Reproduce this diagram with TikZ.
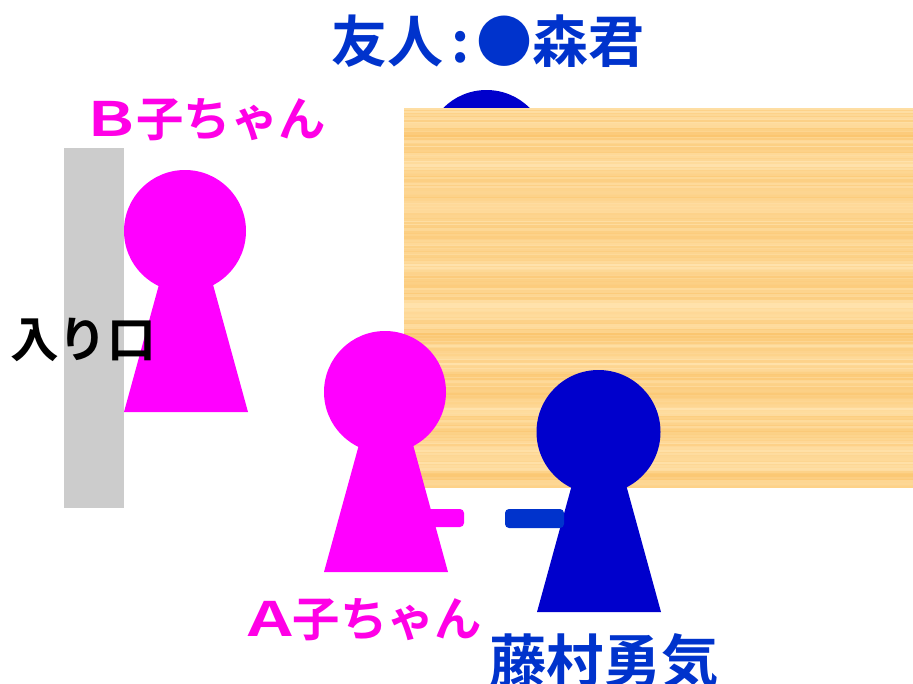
\documentclass[tikz,border=0pt]{standalone}
\usepackage{graphicx}
\usepackage{fontspec}
\newfontfamily\cjk{Noto Sans CJK JP Bold}
\definecolor{pinkfig}{HTML}{FF00FF}
\definecolor{pinktxt}{HTML}{FF00E6}
\definecolor{bluefig}{HTML}{0000CC}
\definecolor{bluetxt}{HTML}{0033CC}
\definecolor{wall}{HTML}{CCCCCC}
\definecolor{woodA}{HTML}{FFE2AC}
\definecolor{woodB}{HTML}{FBC670}
\tikzset{
  pinkbody/.style={fill=pinkfig,draw=none},
  bluebody/.style={fill=bluefig,draw=none},
  lbl/.style={inner sep=0pt,anchor=west,font=\cjk},
  pinklbl/.style={lbl,text=pinktxt,font=\cjk\fontsize{35.5}{36}\selectfont},
  bluelbl/.style={lbl,text=bluetxt,font=\cjk\fontsize{42}{44}\selectfont},
  herolbl/.style={lbl,text=bluetxt,font=\cjk\fontsize{43}{44}\selectfont},
  blacklbl/.style={lbl,text=black,font=\cjk\fontsize{36.5}{38}\selectfont},
}
\begin{document}
\begin{tikzpicture}[x=0.75pt,y=-0.75pt]
\useasboundingbox (0,0) rectangle (913,683);
% friend behind the table
\fill[bluebody] (486.5,151) circle[radius=61];
% table
\pgfmathsetseed{4711}
\foreach \yy in {108,109.5,...,487}{
  \pgfmathsetmacro{\mixv}{max(0,min(100,52+16*sin(\yy*7.3)+12*sin(\yy*17.9+40)+rnd*56-28))}
  \colorlet{woodnow}{woodA!\mixv!woodB}
  \fill[woodnow] (404,\yy) rectangle (913,\yy+1.7);
}
% wall
\fill[wall] (64,148) rectangle (124,508);
% person B
\fill[pinkbody] (163,270) -- (209,270) -- (248,412) -- (124,412) -- cycle;
\fill[pinkbody] (185,231) circle[radius=61];
% person A
\fill[pinkfig,rounded corners=3pt] (420,509) rectangle (464,527);
\fill[pinkbody] (363,430) -- (409,430) -- (448,572) -- (324,572) -- cycle;
\fill[pinkbody] (385,392) circle[radius=61];
% Fujimura
\fill[bluebody] (576,470) -- (622,470) -- (661,612) -- (537,612) -- cycle;
\fill[bluebody] (598.5,432) circle[radius=62];
\fill[bluetxt,rounded corners=3pt] (505,509) rectangle (564,528);
% labels
\node[bluelbl] (friend) at (331,41) {友人\hspace{6pt}:\hspace{5pt}●森君};
\node[pinklbl] (bname) at (80,120) {\scalebox{1.3}[1]{Ｂ}\hspace{-4pt}子ちゃん};
\node[pinklbl] (aname) at (239,620) {\scalebox{1.3}[1]{Ａ}\hspace{-6pt}子ちゃん};
\node[herolbl] (hero) at (489,661) {藤村勇気};
\node[blacklbl] (door) at (10,340) {入り口};
\end{tikzpicture}
\end{document}
